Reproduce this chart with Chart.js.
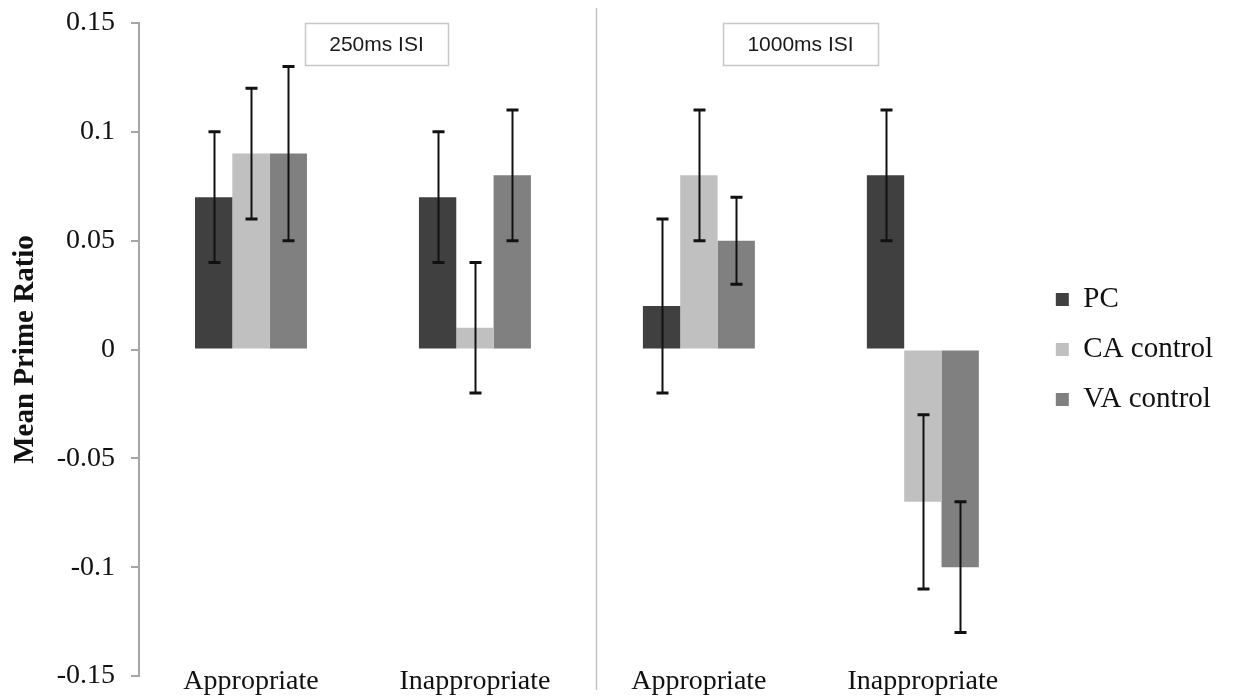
<!DOCTYPE html>
<html>
<head>
<meta charset="utf-8">
<script src="https://cdn.jsdelivr.net/npm/chart.js@4.4.0/dist/chart.umd.min.js"></script>
<style>
  html, body { margin: 0; padding: 0; background: #fff; }
  #wrap { width: 1235px; height: 697px; position: relative; }
</style>
</head>
<body>
<div id="wrap"><canvas id="primeChart"></canvas></div>
<script>
const categories = ['Appropriate', 'Inappropriate', 'Appropriate', 'Inappropriate'];
const seriesNames = ['PC', 'CA control', 'VA control'];
const seriesColors = ['#404040', '#c0c0c0', '#808080'];

const pcValues = [0.07, 0.07, 0.02, 0.08];
const caValues = [0.09, 0.01, 0.08, -0.07];
const vaValues = [0.09, 0.08, 0.05, -0.10];

const pcErrLow = [0.04, 0.04, -0.02, 0.05];
const pcErrHigh = [0.10, 0.10, 0.06, 0.11];
const caErrLow = [0.06, -0.02, 0.05, -0.11];
const caErrHigh = [0.12, 0.04, 0.11, -0.03];
const vaErrLow = [0.05, 0.05, 0.03, -0.13];
const vaErrHigh = [0.13, 0.11, 0.07, -0.07];

const yTickLabels = ['-0.15', '-0.1', '-0.05', '0', '0.05', '0.1', '0.15'];
const panelLabels = ['250ms ISI', '1000ms ISI'];

const SERIF = '"Liberation Serif", "Times New Roman", serif';

// whiskers drawn on top of the bars
const errorBarPlugin = {
  id: 'errorBars',
  afterDatasetsDraw(chart) {
    const ctx = chart.ctx;
    const yScale = chart.scales.y;
    const lows = [pcErrLow, caErrLow, vaErrLow];
    const highs = [pcErrHigh, caErrHigh, vaErrHigh];
    ctx.save();
    ctx.strokeStyle = '#111';
    chart.data.datasets.forEach((ds, i) => {
      const meta = chart.getDatasetMeta(i);
      meta.data.forEach((bar, j) => {
        const x = Math.round(bar.x) + 0.5;
        const yLo = yScale.getPixelForValue(lows[i][j]);
        const yHi = yScale.getPixelForValue(highs[i][j]);
        ctx.lineWidth = 2;
        ctx.beginPath();
        ctx.moveTo(x, yLo);
        ctx.lineTo(x, yHi);
        ctx.stroke();
        ctx.lineWidth = 3;
        ctx.beginPath();
        ctx.moveTo(x - 6, yLo); ctx.lineTo(x + 6, yLo);
        ctx.moveTo(x - 6, yHi); ctx.lineTo(x + 6, yHi);
        ctx.stroke();
      });
    });
    ctx.restore();
  }
};

// category labels (they overlap the plot bottom, so chart.js would clip them),
// panel divider and the two ISI label boxes
const panelPlugin = {
  id: 'panels',
  afterDraw(chart) {
    const ctx = chart.ctx;
    const area = chart.chartArea;
    const xScale = chart.scales.x;
    ctx.save();

    ctx.font = '28px ' + SERIF;
    ctx.fillStyle = '#111';
    ctx.textAlign = 'center';
    ctx.textBaseline = 'alphabetic';
    categories.forEach((c, i) => {
      ctx.fillText(c, xScale.getPixelForValue(i), area.bottom + 13);
    });

    ctx.strokeStyle = '#c4c4c4';
    ctx.lineWidth = 1.5;
    ctx.beginPath();
    ctx.moveTo(area.left + 457.5, 8);
    ctx.lineTo(area.left + 457.5, 690);
    ctx.stroke();

    const boxes = [
      { x: area.left + 166, w: 143 },
      { x: area.left + 584, w: 155 }
    ];
    ctx.font = '21px "Liberation Sans", Arial, sans-serif';
    ctx.textBaseline = 'middle';
    boxes.forEach((b, i) => {
      ctx.fillStyle = '#fff';
      ctx.fillRect(b.x, area.top, b.w, 42);
      ctx.strokeStyle = '#c8c8c8';
      ctx.lineWidth = 1.5;
      ctx.strokeRect(b.x + 0.5, area.top + 0.5, b.w, 42);
      ctx.fillStyle = '#1a1a1a';
      ctx.fillText(panelLabels[i], b.x + b.w / 2, area.top + 22);
    });
    ctx.restore();
  }
};

const ctx = document.getElementById('primeChart');

new Chart(ctx, {
  type: 'bar',
  data: {
    labels: categories,
    datasets: [
      { label: seriesNames[0], data: pcValues, backgroundColor: seriesColors[0] },
      { label: seriesNames[1], data: caValues, backgroundColor: seriesColors[1] },
      { label: seriesNames[2], data: vaValues, backgroundColor: seriesColors[2] }
    ]
  },
  options: {
    responsive: true,
    maintainAspectRatio: false,
    animation: false,
    layout: { padding: { top: 23, right: 12, left: 0, bottom: 0 } },
    datasets: { bar: { categoryPercentage: 0.5, barPercentage: 1 } },
    scales: {
      x: {
        grid: { display: false },
        border: { display: false },
        ticks: { display: false },
        afterFit(scale) { scale.height = 21; }
      },
      y: {
        min: -0.15,
        max: 0.15,
        ticks: {
          stepSize: 0.05,
          color: '#111',
          padding: 16,
          font: { family: SERIF, size: 28, lineHeight: 0.3 },
          callback: (value, index) => yTickLabels[index]
        },
        grid: { drawOnChartArea: false, tickLength: 8, color: '#a6a6a6', lineWidth: 2 },
        border: { color: '#a6a6a6', width: 2 },
        title: {
          display: true,
          text: 'Mean Prime Ratio',
          color: '#111',
          padding: { top: 8, bottom: 0 },
          font: { family: SERIF, size: 29, weight: 'bold' }
        },
        afterFit(scale) { scale.width = 139; }
      }
    },
    plugins: {
      legend: {
        position: 'right',
        fullSize: false,
        labels: {
          boxWidth: 13,
          boxHeight: 13,
          padding: 21,
          color: '#111',
          font: { family: SERIF, size: 29 }
        }
      },
      tooltip: { enabled: false }
    }
  },
  plugins: [errorBarPlugin, panelPlugin]
});
</script>
</body>
</html>
